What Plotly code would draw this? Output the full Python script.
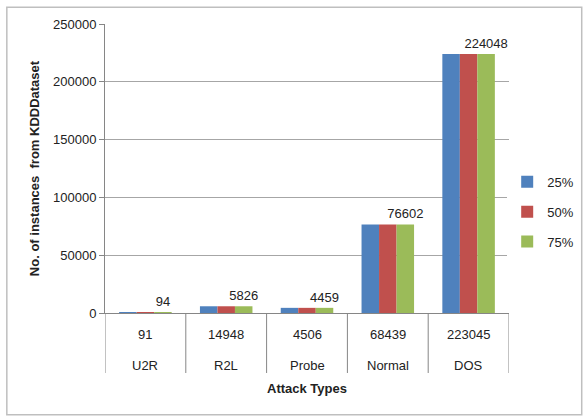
import plotly.graph_objects as go

attack_types = ["U2R", "R2L", "Probe", "Normal", "DOS"]
inner_labels = ["91", "14948", "4506", "68439", "223045"]
series_names = ["25%", "50%", "75%"]
values_25 = [94, 5826, 4459, 76602, 224048]
values_50 = [94, 5826, 4459, 76602, 224048]
values_75 = [94, 5826, 4459, 76602, 224048]
colors = ["#4f81bd", "#c0504d", "#9bbb59"]
y_ticks = [0, 50000, 100000, 150000, 200000, 250000]

FONT = "Liberation Sans"
TXT = "#222222"
AX = "#868686"

fig = go.Figure()
for i, (name, vals) in enumerate(zip(series_names, [values_25, values_50, values_75])):
    show_text = (i == 2)
    fig.add_trace(go.Bar(
        x=attack_types, y=vals, name=name, marker_color=colors[i], marker_line_width=0,
        legendgroup=name,
        text=[str(v) for v in vals] if show_text else None,
        textposition="outside" if show_text else "none",
        textfont=dict(family=FONT, size=13, color=TXT),
        cliponaxis=False,
    ))

fig.update_layout(
    width=585, height=417,
    margin=dict(l=105, r=76, t=24, b=104, autoexpand=False),
    paper_bgcolor="white", plot_bgcolor="white",
    barmode="group", bargap=0.35, bargroupgap=0,
    uniformtext=dict(minsize=13, mode="show"),
    font=dict(family=FONT, size=13, color=TXT),
    legend=dict(xref="container", yref="container", x=0.867, y=0.492,
                xanchor="left", yanchor="middle",
                font=dict(family=FONT, size=13, color=TXT),
                tracegroupgap=10, itemwidth=30),
    showlegend=True,
)
fig.update_yaxes(
    range=[0, 250000], tickvals=y_ticks, ticktext=[str(v) for v in y_ticks],
    showgrid=True, gridcolor="#a6a6a6", gridwidth=1,
    showline=True, linecolor=AX, linewidth=1,
    ticks="outside", ticklen=5, tickcolor=AX,
    zeroline=False,
    tickfont=dict(family=FONT, size=13, color=TXT),
    title=dict(text="<b>No. of instances  from KDDDataset</b>", font=dict(family=FONT, size=13, color=TXT), standoff=10),
)
fig.update_xaxes(
    type="category", categoryorder="array", categoryarray=attack_types,
    range=[-0.5, len(attack_types) - 0.5],
    showline=True, linecolor=AX, linewidth=1,
    showticklabels=False, ticks="",
)

# two-level category labels
for cat, inner in zip(attack_types, inner_labels):
    fig.add_annotation(x=cat, y=-0.076, xref="x", yref="paper", text=inner,
                       showarrow=False, yanchor="middle",
                       font=dict(family=FONT, size=13, color=TXT))
    fig.add_annotation(x=cat, y=-0.180, xref="x", yref="paper", text=cat,
                       showarrow=False, yanchor="middle",
                       font=dict(family=FONT, size=13, color=TXT))
# dividers at category boundaries
for k in range(len(attack_types) + 1):
    fig.add_shape(type="line", xref="x", yref="paper",
                  x0=k - 0.5, x1=k - 0.5, y0=0, y1=-0.2076,
                  line=dict(color=AX, width=1))

fig.add_annotation(x=0.5, y=-0.262, xref="paper", yref="paper",
                   text="<b>Attack Types</b>", showarrow=False, yanchor="middle",
                   font=dict(family=FONT, size=13, color=TXT))

fig.add_shape(type="rect", xref="paper", yref="paper",
              x0=-0.243, x1=1.18, y0=-0.352, y1=1.058,
              line=dict(color="#bfbfbf", width=1.5), layer="below")

fig.write_html("out.html")
